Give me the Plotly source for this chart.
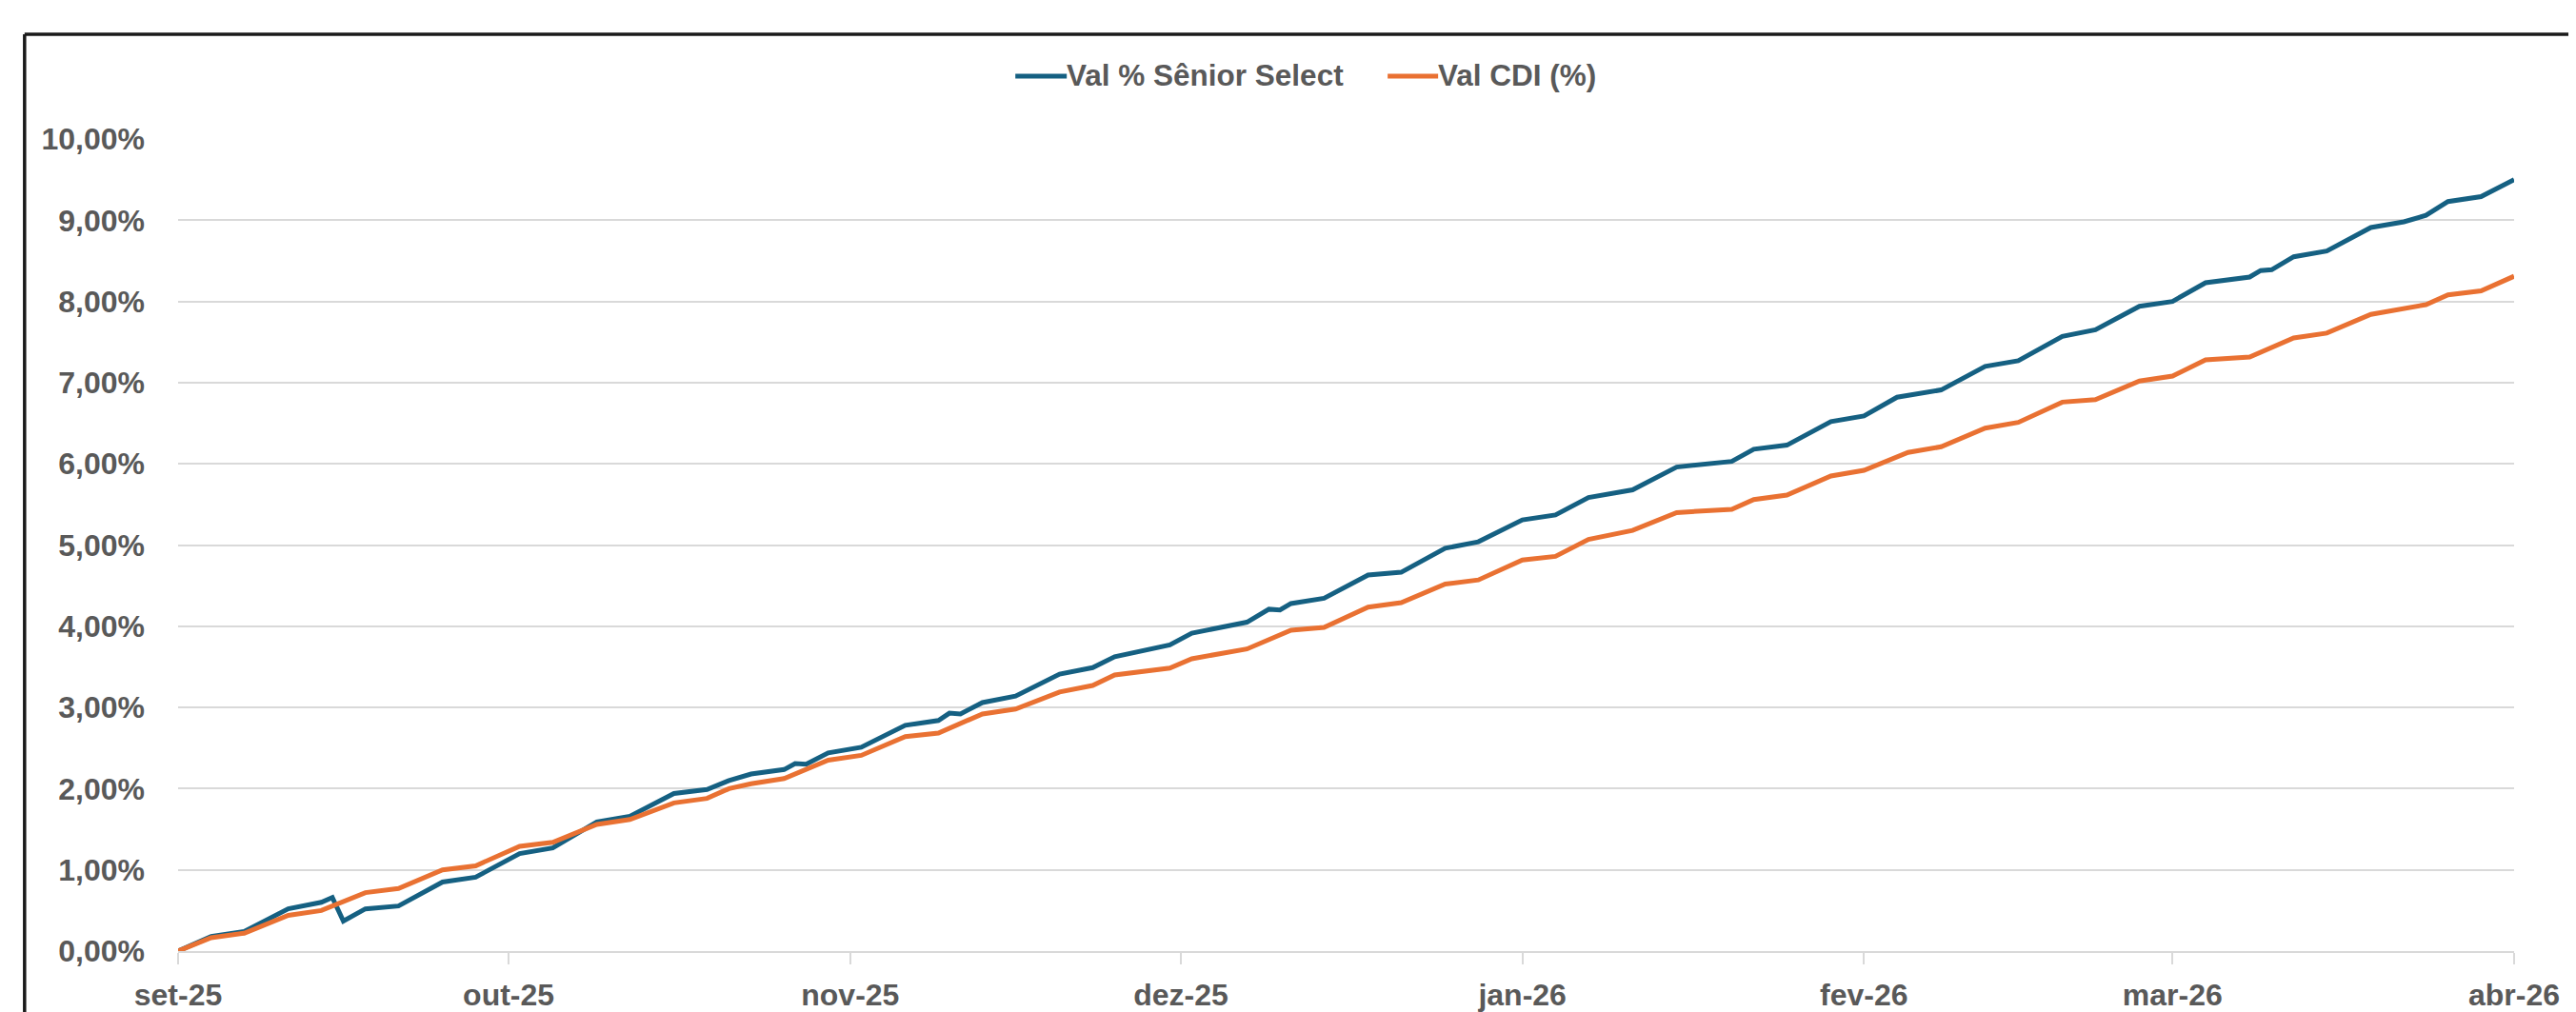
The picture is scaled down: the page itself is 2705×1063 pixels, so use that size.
import plotly.graph_objects as go

# ---- data (percent) ----
senior_dates = [
    "2025-09-01", "2025-09-04", "2025-09-07", "2025-09-11", "2025-09-14", "2025-09-15",
    "2025-09-16", "2025-09-18", "2025-09-21", "2025-09-25", "2025-09-28", "2025-10-02",
    "2025-10-05", "2025-10-09", "2025-10-12", "2025-10-16", "2025-10-19", "2025-10-21",
    "2025-10-23", "2025-10-26", "2025-10-27", "2025-10-28", "2025-10-30", "2025-11-02",
    "2025-11-06", "2025-11-09", "2025-11-10", "2025-11-11", "2025-11-13", "2025-11-16",
    "2025-11-20", "2025-11-23", "2025-11-25", "2025-11-30", "2025-12-02", "2025-12-04",
    "2025-12-07", "2025-12-09", "2025-12-10", "2025-12-11", "2025-12-14", "2025-12-18",
    "2025-12-21", "2025-12-25", "2025-12-28", "2026-01-01", "2026-01-04", "2026-01-07",
    "2026-01-11", "2026-01-15", "2026-01-20", "2026-01-22", "2026-01-25", "2026-01-29",
    "2026-02-01", "2026-02-04", "2026-02-08", "2026-02-12", "2026-02-15", "2026-02-19",
    "2026-02-22", "2026-02-26", "2026-03-01", "2026-03-04", "2026-03-08", "2026-03-09",
    "2026-03-10", "2026-03-12", "2026-03-15", "2026-03-19", "2026-03-22", "2026-03-24",
    "2026-03-26", "2026-03-29", "2026-04-01",
]
senior_vals = [
    0.00, 0.18, 0.24, 0.52, 0.60, 0.66,
    0.37, 0.52, 0.555, 0.85, 0.91, 1.20,
    1.27, 1.59, 1.66, 1.94, 1.99, 2.10,
    2.18, 2.235, 2.31, 2.30, 2.44, 2.51,
    2.78, 2.84, 2.93, 2.92, 3.06, 3.14,
    3.41, 3.49, 3.625, 3.77, 3.915, 3.97,
    4.05, 4.21, 4.20, 4.28, 4.345, 4.63,
    4.665, 4.96, 5.04, 5.31, 5.37, 5.585,
    5.68, 5.96, 6.03, 6.18, 6.23, 6.52,
    6.59, 6.82, 6.91, 7.20, 7.27, 7.57,
    7.65, 7.94, 8.00, 8.23, 8.30, 8.38,
    8.39, 8.55, 8.62, 8.91, 8.98, 9.06,
    9.23, 9.29, 9.50,
]

cdi_dates = [
    "2025-09-01", "2025-09-04", "2025-09-07", "2025-09-11", "2025-09-14", "2025-09-18",
    "2025-09-21", "2025-09-25", "2025-09-28", "2025-10-02", "2025-10-05", "2025-10-09",
    "2025-10-12", "2025-10-16", "2025-10-19", "2025-10-21", "2025-10-23", "2025-10-26",
    "2025-10-30", "2025-11-02", "2025-11-06", "2025-11-09", "2025-11-13", "2025-11-16",
    "2025-11-20", "2025-11-23", "2025-11-25", "2025-11-30", "2025-12-02", "2025-12-04",
    "2025-12-07", "2025-12-11", "2025-12-14", "2025-12-18", "2025-12-21", "2025-12-25",
    "2025-12-28", "2026-01-01", "2026-01-04", "2026-01-07", "2026-01-11", "2026-01-15",
    "2026-01-20", "2026-01-22", "2026-01-25", "2026-01-29", "2026-02-01", "2026-02-05",
    "2026-02-08", "2026-02-12", "2026-02-15", "2026-02-19", "2026-02-22", "2026-02-26",
    "2026-03-01", "2026-03-04", "2026-03-08", "2026-03-12", "2026-03-15", "2026-03-19",
    "2026-03-24", "2026-03-26", "2026-03-29", "2026-04-01",
]
cdi_vals = [
    0.00, 0.164, 0.22, 0.44, 0.50, 0.72,
    0.77, 1.00, 1.05, 1.29, 1.34, 1.56,
    1.62, 1.825, 1.88, 2.00, 2.06, 2.125,
    2.35, 2.41, 2.64, 2.685, 2.92, 2.98,
    3.19, 3.27, 3.40, 3.485, 3.60, 3.65,
    3.72, 3.95, 3.985, 4.235, 4.29, 4.52,
    4.57, 4.815, 4.86, 5.07, 5.18, 5.40,
    5.44, 5.56, 5.615, 5.85, 5.92, 6.14,
    6.21, 6.44, 6.51, 6.76, 6.79, 7.02,
    7.08, 7.28, 7.315, 7.55, 7.61, 7.84,
    7.96, 8.08, 8.13, 8.31,
]

month_ticks = ["2025-09-01", "2025-10-01", "2025-11-01", "2025-12-01",
               "2026-01-01", "2026-02-01", "2026-03-01", "2026-04-01"]
month_labels = ["set-25", "out-25", "nov-25", "dez-25", "jan-26", "fev-26", "mar-26", "abr-26"]
y_ticks = [0, 1, 2, 3, 4, 5, 6, 7, 8, 9, 10]
y_labels = ["0,00%", "1,00%", "2,00%", "3,00%", "4,00%", "5,00%",
            "6,00%", "7,00%", "8,00%", "9,00%", "10,00%"]

series_names = ["Val % Sênior Select", "Val CDI (%)"]
colors = ["#156082", "#E97132"]

FONT = "Liberation Sans, Arial, sans-serif"
GRAY = "#595959"

OFF = 8                      # default page margin of the html body
PAGE_W, PAGE_H = 2705, 1063
W, H = PAGE_W - OFF, PAGE_H - OFF
# target plot-area edges in page pixels
P_LEFT, P_RIGHT, P_TOP, P_BOTTOM = 186.7, 2640, 146, 999
L = P_LEFT - OFF
R = W - (P_RIGHT - OFF)
T = P_TOP - OFF
B = H - (P_BOTTOM - OFF)

pw = W - L - R
ph = H - T - B
def px_x(p):
    return (p - OFF - L) / pw
def px_y(p):
    return (H - B - (p - OFF)) / ph

fig = go.Figure()
fig.add_trace(go.Scatter(x=senior_dates, y=senior_vals, mode="lines", name=series_names[0],
                         line=dict(color=colors[0], width=5), showlegend=False))
fig.add_trace(go.Scatter(x=cdi_dates, y=cdi_vals, mode="lines", name=series_names[1],
                         line=dict(color=colors[1], width=5), showlegend=False))

# outer frame (left & top edges visible)
fig.add_shape(type="line", xref="paper", yref="paper",
              x0=px_x(25.5), x1=px_x(PAGE_W + 10), y0=px_y(36), y1=px_y(36),
              line=dict(color="#1a1a1a", width=3.5))
fig.add_shape(type="line", xref="paper", yref="paper",
              x0=px_x(25.5), x1=px_x(25.5), y0=px_y(36), y1=px_y(PAGE_H + 10),
              line=dict(color="#1a1a1a", width=3.5))

# legend (drawn by hand so the key lines match the original length)
legend_items = [(series_names[0], colors[0], 1066, 1120),
                (series_names[1], colors[1], 1457, 1510)]
LEG_Y = 80
for name, col, x0, x1 in legend_items:
    fig.add_shape(type="line", xref="paper", yref="paper",
                  x0=px_x(x0), x1=px_x(x1), y0=px_y(LEG_Y), y1=px_y(LEG_Y),
                  line=dict(color=col, width=5))
    fig.add_annotation(xref="paper", yref="paper", x=px_x(x1 - 1), y=px_y(LEG_Y - 1),
                       xanchor="left", yanchor="middle", showarrow=False, text=name,
                       font=dict(family=FONT, size=31.5, color=GRAY, weight="bold"),
                       borderpad=0)

fig.update_layout(
    width=W, height=H,
    margin=dict(l=L, r=R, t=T, b=B, autoexpand=False),
    paper_bgcolor="white", plot_bgcolor="white",
    font=dict(family=FONT, color=GRAY, size=32),
    showlegend=False,
)
fig.update_xaxes(
    type="date", range=["2025-09-01", "2026-04-01"],
    tickmode="array", tickvals=month_ticks, ticktext=month_labels,
    showgrid=False, zeroline=False,
    showline=True, linecolor="#D9D9D9", linewidth=2,
    ticks="outside", ticklen=12, tickwidth=2, tickcolor="#D9D9D9",
    tickfont=dict(family=FONT, size=32, color=GRAY, weight="bold"),
    ticklabelstandoff=5,
)
fig.update_yaxes(
    range=[0, 10], tickmode="array", tickvals=y_ticks, ticktext=y_labels,
    showgrid=True, gridcolor="#D9D9D9", gridwidth=2,
    zeroline=False, showline=False, ticks="",
    tickfont=dict(family=FONT, size=32, color=GRAY, weight="bold"),
    ticklabelstandoff=34,
)

fig.write_html("out.html")
